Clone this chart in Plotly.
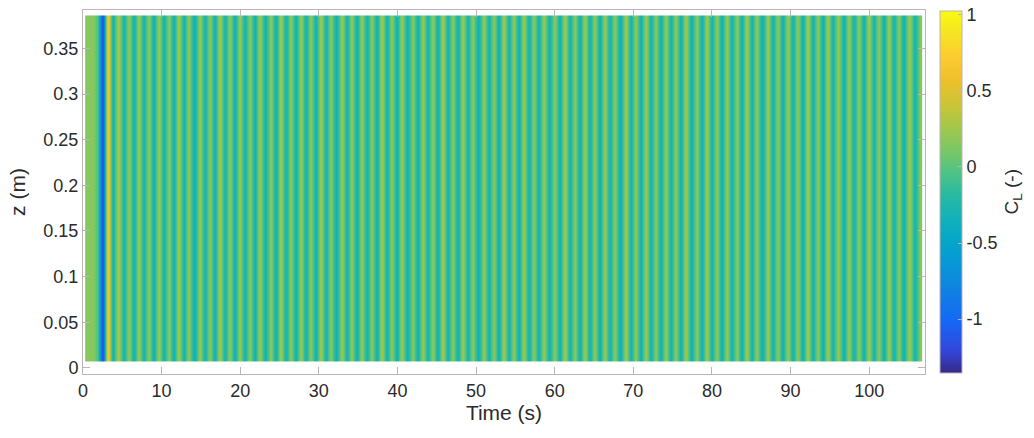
import plotly.graph_objects as go

# Lift coefficient along the span, one value per half oscillation cycle
t_start = 0.6          # s, centre of first sample
t_step = 0.645         # s, sample spacing (half period)
z_edges = [0.0066, 0.386]   # m, spanwise extent of the sensor strip

cl_values = [
    0.15, 0.18, -0.05, -1.25, 0.78, -0.38, 0.30, -0.33, 0.24, -0.35,
    0.26, -0.32, 0.21, -0.36, 0.27, -0.33, 0.19, -0.35, 0.29, -0.32,
    0.22, -0.36, 0.26, -0.33, 0.20, -0.35, 0.30, -0.32, 0.21, -0.36,
    0.25, -0.33, 0.19, -0.35, 0.27, -0.32, 0.22, -0.36, 0.29, -0.33,
    0.20, -0.35, 0.25, -0.32, 0.21, -0.36, 0.30, -0.33, 0.19, -0.35,
    0.27, -0.32, 0.22, -0.36, 0.25, -0.33, 0.20, -0.35, 0.29, -0.32,
    0.21, -0.36, 0.27, -0.33, 0.19, -0.35, 0.25, -0.32, 0.22, -0.36,
    0.30, -0.33, 0.20, -0.35, 0.27, -0.32, 0.21, -0.36, 0.25, -0.33,
    0.19, -0.35, 0.29, -0.32, 0.22, -0.36, 0.27, -0.33, 0.20, -0.35,
    0.25, -0.32, 0.21, -0.36, 0.30, -0.33, 0.19, -0.35, 0.27, -0.32,
    0.22, -0.36, 0.25, -0.33, 0.20, -0.35, 0.29, -0.32, 0.21, -0.36,
    0.27, -0.33, 0.19, -0.35, 0.25, -0.32, 0.22, -0.36, 0.30, -0.33,
    0.20, -0.35, 0.27, -0.32, 0.21, -0.36, 0.25, -0.33, 0.19, -0.35,
    0.29, -0.32, 0.22, -0.36, 0.27, -0.33, 0.20, -0.35, 0.25, -0.32,
    0.21, -0.36, 0.30, -0.33, 0.19, -0.35, 0.27, -0.32, 0.22, -0.36,
    0.25, -0.33, 0.20, -0.35, 0.29, -0.32, 0.21, -0.36, 0.27, -0.33,
    0.19, -0.35, 0.25, -0.32, 0.15,
]

x_ticks = [0, 10, 20, 30, 40, 50, 60, 70, 80, 90, 100]
y_ticks = [0, 0.05, 0.1, 0.15, 0.2, 0.25, 0.3, 0.35]
cb_ticks = [-1, -0.5, 0, 0.5, 1]
c_range = [-1.355, 1.026]

parula = [
    [0.000, "rgb(53,42,135)"],
    [0.063, "rgb(52,70,220)"],
    [0.143, "rgb(20,104,245)"],
    [0.238, "rgb(15,132,223)"],
    [0.302, "rgb(7,151,214)"],
    [0.365, "rgb(5,166,201)"],
    [0.429, "rgb(19,177,184)"],
    [0.492, "rgb(40,186,162)"],
    [0.556, "rgb(80,196,132)"],
    [0.619, "rgb(125,199,100)"],
    [0.683, "rgb(166,199,74)"],
    [0.746, "rgb(204,197,53)"],
    [0.810, "rgb(238,192,43)"],
    [0.873, "rgb(253,203,48)"],
    [0.937, "rgb(246,227,37)"],
    [1.000, "rgb(249,251,14)"],
]

FONT = "Liberation Sans, Arial, Helvetica, sans-serif"
TXT = "#2b2b2b"
FRAME = "#bdb3b8"

fig = go.Figure(
    go.Heatmap(
        z=[cl_values],
        x0=t_start,
        dx=t_step,
        y=z_edges,
        zsmooth="best",
        colorscale=parula,
        zmin=c_range[0],
        zmax=c_range[1],
        colorbar=dict(
            x=1.0178,
            xanchor="left",
            y=0.5,
            yanchor="middle",
            len=0.995,
            lenmode="fraction",
            thickness=22,
            thicknessmode="pixels",
            outlinecolor=FRAME,
            outlinewidth=1,
            tickvals=cb_ticks,
            ticktext=["-1", "-0.5", "0", "0.5", "1"],
            ticks="inside",
            ticklen=4,
            tickcolor=FRAME,
            tickfont=dict(family=FONT, size=18, color=TXT),
            xpad=0,
            ypad=0,
        ),
    )
)

fig.add_annotation(
    text="C<sub>L</sub> (-)",
    xref="paper", yref="paper",
    x=1.105, y=0.5,
    xanchor="center", yanchor="middle",
    textangle=-90,
    showarrow=False,
    font=dict(family=FONT, size=19, color=TXT),
)

fig.update_layout(
    width=1034,
    height=438,
    margin=dict(l=83, r=109, t=10, b=64),
    paper_bgcolor="white",
    plot_bgcolor="white",
    font=dict(family=FONT, color=TXT),
    xaxis=dict(
        range=[0, 107.1],
        tickvals=x_ticks,
        ticks="inside",
        ticklen=7,
        tickcolor=FRAME,
        showline=True,
        linecolor=FRAME,
        linewidth=1,
        mirror="ticks",
        showgrid=False,
        zeroline=False,
        tickfont=dict(family=FONT, size=18, color=TXT),
        title=dict(text="Time (s)", font=dict(family=FONT, size=21, color=TXT), standoff=4),
    ),
    yaxis=dict(
        range=[-0.0066, 0.392],
        tickvals=y_ticks,
        ticks="inside",
        ticklen=7,
        tickcolor=FRAME,
        showline=True,
        linecolor=FRAME,
        linewidth=1,
        mirror="ticks",
        showgrid=False,
        zeroline=False,
        tickfont=dict(family=FONT, size=18, color=TXT),
        title=dict(text="z (m)", font=dict(family=FONT, size=21, color=TXT), standoff=12),
    ),
)

fig.write_html("out.html")
